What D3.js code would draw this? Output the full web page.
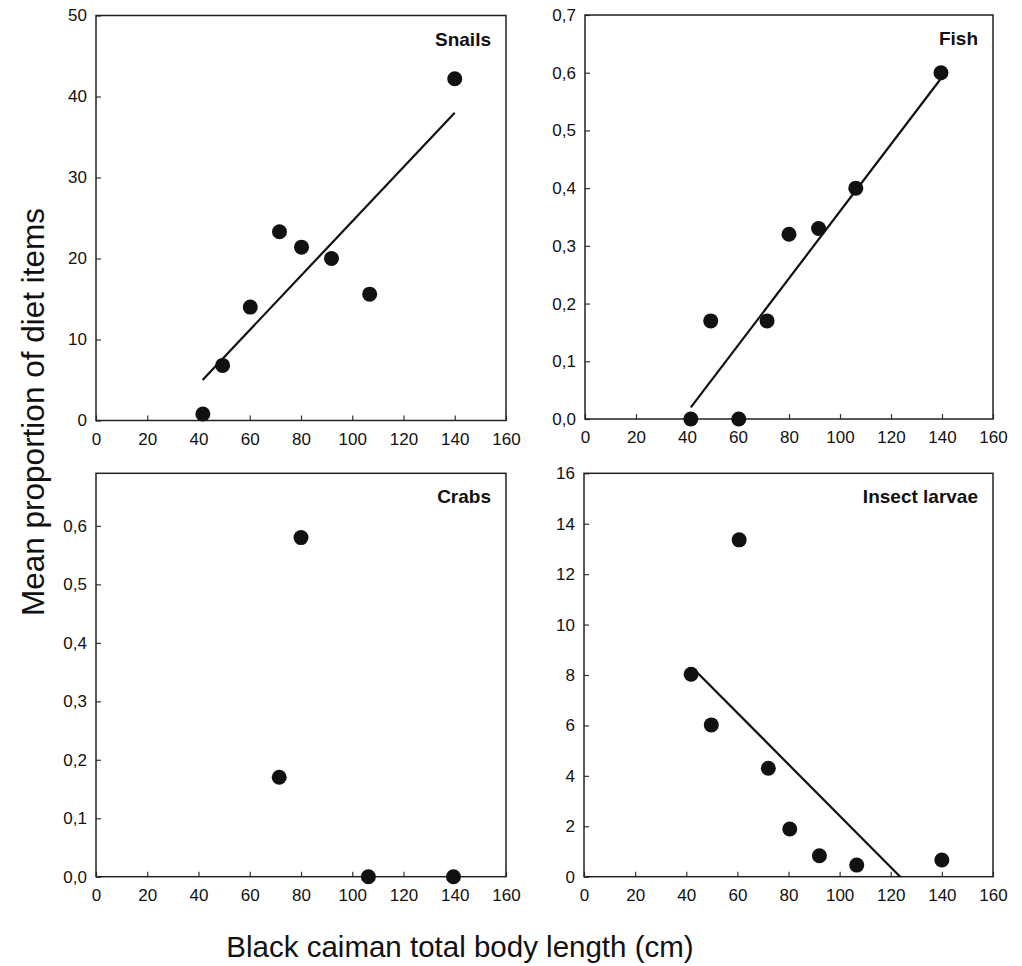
<!DOCTYPE html>
<html><head><meta charset="utf-8">
<script src="https://cdn.jsdelivr.net/npm/d3@7"></script>
<style>body{margin:0;background:#fff}svg{display:block}text{font-family:"Liberation Sans",Arial,sans-serif}</style>
</head><body><svg id="c" width="1022" height="966"></svg>
<script>
// ---- data ----
const xTicks = [0,20,40,60,80,100,120,140,160];

const snailsX = [41.7,49.4,60.2,71.6,80.2,91.9,106.8,140];
const snailsY = [0.8,6.8,14.0,23.3,21.4,20.0,15.6,42.2];
const snailsFitX = [41.6,140];
const snailsFitY = [5.0,38.0];
const snailsTicks = [0,10,20,30,40,50];

const fishX = [41.5,49.3,60.3,71.4,80.0,91.6,106.2,139.6];
const fishY = [0,0.17,0,0.17,0.32,0.33,0.40,0.60];
const fishFitX = [41.5,139.6];
const fishFitY = [0.02,0.59];
const fishTicks = [0,0.1,0.2,0.3,0.4,0.5,0.6,0.7];

const crabsX = [80.0,71.5,106.3,139.5];
const crabsY = [0.58,0.17,0,0];
const crabsTicks = [0,0.1,0.2,0.3,0.4,0.5,0.6];

const larvaeX = [41.9,49.8,60.7,72.1,80.5,92.1,106.7,140];
const larvaeY = [8.03,6.02,13.36,4.30,1.89,0.83,0.46,0.66];
const larvaeFitX = [43.3,123.7];
const larvaeFitY = [8.2,0.0];
const larvaeTicks = [0,2,4,6,8,10,12,14,16];

const panels = [
  {title:"Snails", xs:snailsX, ys:snailsY, fx:snailsFitX, fy:snailsFitY, ticks:snailsTicks, ymax:50, fmt:d=>String(d), box:[96,15.5,410,405]},
  {title:"Fish", xs:fishX, ys:fishY, fx:fishFitX, fy:fishFitY, ticks:fishTicks, ymax:0.7, fmt:d=>d3.format(".1f")(d).replace(".",","), box:[585,15,408,404]},
  {title:"Crabs", xs:crabsX, ys:crabsY, fx:null, fy:null, ticks:crabsTicks, ymax:0.69, fmt:d=>d3.format(".1f")(d).replace(".",","), box:[96,473.3,410,403.4]},
  {title:"Insect larvae", xs:larvaeX, ys:larvaeY, fx:larvaeFitX, fy:larvaeFitY, ticks:larvaeTicks, ymax:16, fmt:d=>String(d), box:[584,473.3,409,403.4]}
];

const svg = d3.select("#c");

panels.forEach(p=>{
  const [L,T,W,H] = p.box;
  const g = svg.append("g").attr("transform",`translate(${L},${T})`);
  const x = d3.scaleLinear().domain([0,160]).range([0,W]);
  const y = d3.scaleLinear().domain([0,p.ymax]).range([H,0]);

  const xa = g.append("g").attr("transform",`translate(0,${H})`)
    .call(d3.axisBottom(x).tickValues(xTicks).tickSize(-5).tickPadding(12).tickFormat(d=>String(d)));
  const ya = g.append("g")
    .call(d3.axisLeft(y).tickValues(p.ticks).tickSize(-5).tickPadding(9).tickFormat(p.fmt));
  [xa,ya].forEach(a=>{
    a.select(".domain").remove();
    a.selectAll("line").attr("stroke","#333").attr("stroke-width",1.2);
    a.selectAll("text").attr("font-size",17).attr("fill","#111");
  });
  g.append("rect").attr("x",0).attr("y",0).attr("width",W).attr("height",H)
    .attr("fill","none").attr("stroke","#222").attr("stroke-width",1.5);

  if(p.fx){
    g.append("line")
      .attr("x1",x(p.fx[0])).attr("y1",y(p.fy[0]))
      .attr("x2",x(p.fx[1])).attr("y2",y(p.fy[1]))
      .attr("stroke","#111").attr("stroke-width",2.2);
  }
  g.selectAll("circle").data(p.xs.map((v,i)=>[v,p.ys[i]])).enter().append("circle")
    .attr("cx",d=>x(d[0])).attr("cy",d=>y(d[1])).attr("r",7.5).attr("fill","#111");

  g.append("text").attr("x",W-15).attr("y",30).attr("text-anchor","end")
    .attr("font-size",19).attr("font-weight","bold").attr("fill","#111").text(p.title);
});

svg.append("text").attr("transform","translate(44,412) rotate(-90)")
  .attr("text-anchor","middle").attr("font-size",31.5).attr("fill","#111")
  .text("Mean proportion of diet items");
svg.append("text").attr("x",460).attr("y",957)
  .attr("text-anchor","middle").attr("font-size",29.5).attr("fill","#111")
  .text("Black caiman total body length (cm)");
</script></body></html>
